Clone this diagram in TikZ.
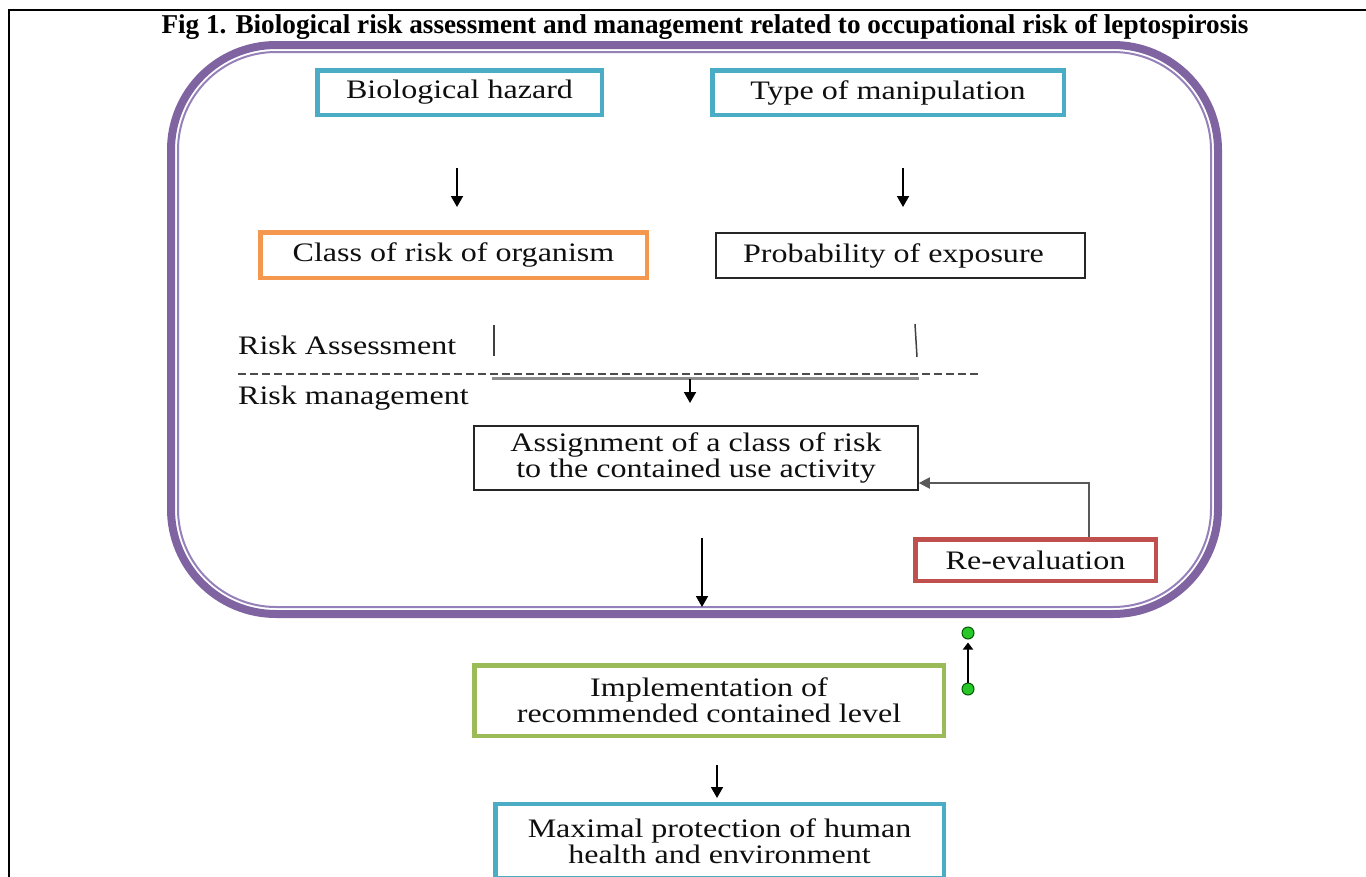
\documentclass[tikz,border=0pt]{standalone}
\usepackage{fontspec}
\setmainfont{Liberation Serif}
\newfontfamily\boxfont{Liberation Serif}[FakeStretch=1.2]
\usetikzlibrary{arrows.meta}
\definecolor{purp}{RGB}{128,100,162}
\definecolor{purpl}{RGB}{150,128,185}
\definecolor{tealb}{RGB}{75,172,198}
\definecolor{orng}{RGB}{243,152,78}
\definecolor{grn}{RGB}{155,187,89}
\definecolor{redb}{RGB}{192,80,77}
\definecolor{txt}{RGB}{15,15,15}
\definecolor{dotgreen}{RGB}{40,200,40}
\begin{document}
\begin{tikzpicture}[x=1pt,y=-1pt,
  bx/.style={draw, line width=4.5pt, inner sep=0pt, text=txt, align=center,
    font=\boxfont\fontsize{26.7}{26}\selectfont},
  thinbx/.style={draw=black!85, line width=1.6pt, inner sep=0pt, text=txt, align=center,
    font=\boxfont\fontsize{26.7}{26}\selectfont},
  lbl/.style={inner sep=0pt, anchor=west, text=txt, font=\boxfont\fontsize{26.7}{26}\selectfont},
  arr/.style={line width=1.8pt, -{Triangle[length=11pt,width=12pt]}},
  tick/.style={line width=1.5pt, black!75},
  gdot/.style={circle, fill=dotgreen, draw=green!35!black, line width=1pt, minimum size=12pt, inner sep=0pt}]
\useasboundingbox (0,0) rectangle (1366,876);
\fill[white] (0,0) rectangle (1366,876);
% outer frame
\draw[line width=2.5pt] (9,880) -- (9,10) -- (1370,10);
% title
\node[font=\bfseries\fontsize{27.2}{29}\selectfont, anchor=base, inner sep=0pt] (title) at (705,33) {Fig 1. Biological risk assessment and management related to occupational risk of leptospirosis};
% purple rounded frame
\draw[purp, line width=8pt, rounded corners=105pt] (171,45) rectangle (1218,614);
\draw[purpl, line width=2pt, rounded corners=98pt] (178,52) rectangle (1211,607);
% boxes
\node[bx, draw=tealb, minimum width=284.5pt, minimum height=44.5pt] (bio) at (459.5,92.5) {Biological hazard};
\node[bx, draw=tealb, minimum width=351.5pt, minimum height=44.5pt] (type) at (888,92.5) {Type of manipulation};
\node[bx, draw=orng, minimum width=386.5pt, minimum height=45.5pt] (class) at (453.5,255) {Class of risk of organism};
\node[thinbx, minimum width=369pt, minimum height=45.5pt] (prob) at (900.5,255.5) {Probability of exposure\kern14pt};
\node[lbl] (ra) at (238,345) {Risk Assessment};
\node[lbl] (rm) at (238,398) {Risk management};
\node[thinbx, minimum width=444pt, minimum height=64.5pt] (assign) at (696,458) {Assignment of a class of risk\\to the contained use activity};
\node[bx, draw=redb, minimum width=240.5pt, minimum height=41.5pt] (reeval) at (1035.5,560) {Re-evaluation};
\node[bx, draw=grn, minimum width=469.5pt, minimum height=70.5pt] (impl) at (709,700.5) {Implementation of\\recommended contained level};
\node[bx, draw=tealb, minimum width=448.5pt, minimum height=74pt] (maxp) at (719.5,841) {Maximal protection of human\\health and environment};
% arrows top
\coordinate (a1s) at (457,168); \coordinate (a1e) at (457,207);
\coordinate (a2s) at (903,168); \coordinate (a2e) at (903,207);
\draw[arr] (a1s) -- (a1e);
\draw[arr] (a2s) -- (a2e);
% ticks and separator
\coordinate (t1a) at (494,325); \coordinate (t1b) at (494,356);
\coordinate (t2a) at (915,324); \coordinate (t2b) at (917,357);
\draw[tick] (t1a) -- (t1b);
\draw[tick] (t2a) -- (t2b);
\coordinate (d1) at (238,374); \coordinate (d2) at (980,374);
\draw[black!70, line width=1.2pt, dash pattern=on 8pt off 4pt] (d1) -- (d2);
\coordinate (u1) at (492,378.5); \coordinate (u2) at (919,378.5);
\draw[black!45, line width=2.5pt] (u1) -- (u2);
\coordinate (a3s) at (690,379);
\draw[arr] (a3s) -- (a3s |- 0,403);
% re-evaluation feedback
\coordinate (rb) at (1089,483);
\draw[black!65, line width=2pt, -{Triangle[length=11pt,width=11pt]}] (reeval.north -| rb) -- (rb) -- (assign.east |- rb);
% arrow to bottom of frame
\coordinate (a4s) at (702,538); \coordinate (a4e) at (702,607);
\draw[arr] (a4s) -- (a4e);
% green handle
\node[gdot] (g1) at (968,633) {};
\node[gdot] (g2) at (968,689) {};
\draw[line width=1.6pt, -{Triangle[length=7pt,width=10pt]}] (g2) -- ([yshift=-3pt]g1.south);
% arrow impl -> maximal
\coordinate (a5s) at (717,765); \coordinate (a5e) at (717,798);
\draw[arr] (a5s) -- (a5e);
\end{tikzpicture}
\end{document}
